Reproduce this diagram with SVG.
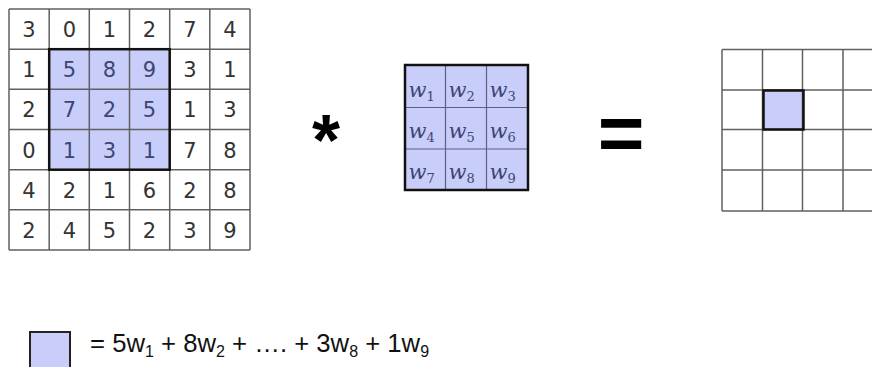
<svg xmlns="http://www.w3.org/2000/svg" width="872" height="367" viewBox="0 0 872 367">
<style>
.grid{stroke:#606060;stroke-width:1.5;fill:none}
.hl{fill:#c8cdf9}
.bord{fill:none;stroke:#111;stroke-width:2.5}
.num{font-family:"DejaVu Sans",sans-serif;font-size:21px;fill:#333;text-anchor:middle}
.num.in{fill:#3d4575}
.w{font-family:"DejaVu Serif","Liberation Serif",serif;font-style:italic;font-size:21px;fill:#3d4575}
.sub{font-size:13px;font-style:normal}
.op{font-family:"Liberation Sans",Arial,sans-serif;font-weight:bold;fill:#000;text-anchor:middle}
.eq{font-family:"Liberation Sans",Arial,sans-serif;font-size:25.7px;fill:#111}
</style>
<rect width="872" height="367" fill="#fff"/>
<g id="input-grid">
  <rect class="hl" x="49.2" y="49.2" width="120.5" height="120.5"/>
  <path class="grid" d="M9 9H250M9 49.2H250M9 89.3H250M9 129.5H250M9 169.7H250M9 209.8H250M9 250H250M9 9V250M49.2 9V250M89.3 9V250M129.5 9V250M169.7 9V250M209.8 9V250M250 9V250"/>
  <rect class="bord" x="49.2" y="49.2" width="120.5" height="120.5"/>
  <g class="num">
    <text x="29" y="37">3</text><text x="69.5" y="37">0</text><text x="109.5" y="37">1</text><text x="149.5" y="37">2</text><text x="190" y="37">7</text><text x="230" y="37">4</text>
    <text x="29" y="77">1</text><text x="190" y="77">3</text><text x="230" y="77">1</text>
    <text x="29" y="117">2</text><text x="190" y="117">1</text><text x="230" y="117">3</text>
    <text x="29" y="157.5">0</text><text x="190" y="157.5">7</text><text x="230" y="157.5">8</text>
    <text x="29" y="197.5">4</text><text x="69.5" y="197.5">2</text><text x="109.5" y="197.5">1</text><text x="149.5" y="197.5">6</text><text x="190" y="197.5">2</text><text x="230" y="197.5">8</text>
    <text x="29" y="237.5">2</text><text x="69.5" y="237.5">4</text><text x="109.5" y="237.5">5</text><text x="149.5" y="237.5">2</text><text x="190" y="237.5">3</text><text x="230" y="237.5">9</text>
  </g>
  <g class="num in">
    <text x="69.5" y="77">5</text><text x="109.5" y="77">8</text><text x="149.5" y="77">9</text>
    <text x="69.5" y="117">7</text><text x="109.5" y="117">2</text><text x="149.5" y="117">5</text>
    <text x="69.5" y="157.5">1</text><text x="109.5" y="157.5">3</text><text x="149.5" y="157.5">1</text>
  </g>
</g>
<g id="conv-operator">
  <text class="op" x="326" y="165" font-size="72">*</text>
</g>
<g id="kernel">
  <rect class="hl" x="405" y="65" width="123" height="125"/>
  <path d="M445.5 65V190M486.5 65V190M405 107.5H528M405 149H528" stroke="#5a6088" stroke-width="1.2" fill="none"/>
  <rect class="bord" x="405" y="65" width="123" height="125"/>
  <g class="w">
    <text x="408.5" y="97">w<tspan class="sub" dy="4">1</tspan></text>
    <text x="448.5" y="97">w<tspan class="sub" dy="4">2</tspan></text>
    <text x="489.5" y="97">w<tspan class="sub" dy="4">3</tspan></text>
    <text x="408.5" y="138">w<tspan class="sub" dy="4">4</tspan></text>
    <text x="448.5" y="138">w<tspan class="sub" dy="4">5</tspan></text>
    <text x="489.5" y="138">w<tspan class="sub" dy="4">6</tspan></text>
    <text x="408.5" y="179">w<tspan class="sub" dy="4">7</tspan></text>
    <text x="448.5" y="179">w<tspan class="sub" dy="4">8</tspan></text>
    <text x="489.5" y="179">w<tspan class="sub" dy="4">9</tspan></text>
  </g>
</g>
<g id="equals-operator">
  <text class="op" x="621" y="160" font-size="80">=</text>
</g>
<g id="output-grid">
  <rect class="hl" x="763" y="90" width="40" height="39.5"/>
  <path class="grid" d="M722 49.5H872M722 90H872M722 129.5H872M722 170H872M722 211H872M722 49.5V211M762.5 49.5V211M802.5 49.5V211M843 49.5V211"/>
  <rect class="bord" x="763.5" y="90.5" width="40" height="39"/>
</g>
<g id="legend">
  <rect x="30" y="332" width="40" height="45" fill="#c8cdf9" stroke="#222" stroke-width="2"/>
  <text class="eq" x="90" y="352">= 5w<tspan font-size="16" dy="5">1</tspan><tspan dy="-5"> + 8w</tspan><tspan font-size="16" dy="5">2</tspan><tspan dy="-5"> + …. + 3w</tspan><tspan font-size="16" dy="5">8</tspan><tspan dy="-5"> + 1w</tspan><tspan font-size="16" dy="5">9</tspan></text>
</g>
</svg>
